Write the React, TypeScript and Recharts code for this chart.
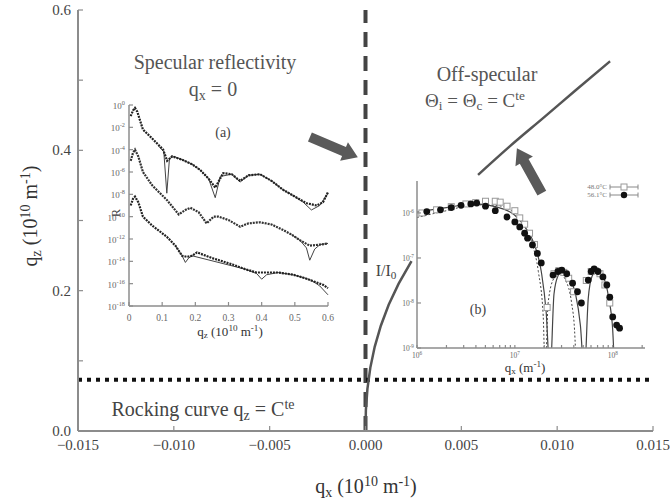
import { ComposedChart, Line, Scatter, XAxis, YAxis, ReferenceLine } from "recharts";

const SERIF = '"Liberation Serif", "Times New Roman", Tinos, Times, "DejaVu Serif", serif';
const AXIS = "#8c8c8c";

// main panel: (qx, qz) map
const qxTicks = [-0.015, -0.01, -0.005, 0, 0.005, 0.01, 0.015];
const qzTicks = [0, 0.1, 0.2, 0.3, 0.4, 0.5, 0.6];
const qzLabeled = [0, 0.2, 0.4, 0.6];
const rockingQz = 0.073;
const offSpecQx = [0.00587, 0.00754, 0.00931, 0.01098, 0.01276];
const offSpecQz = [0.365, 0.406, 0.447, 0.486, 0.527];
const intensityQx = [0, 0.00002, 0.0001, 0.00025, 0.00048, 0.0008, 0.00121, 0.00173, 0.0024];
const intensityQz = [0, 0.03, 0.06, 0.09, 0.12, 0.15, 0.18, 0.21, 0.242];
const arrowSpecular = [[-0.0029, 0.419], [-0.0004, 0.39]];
const arrowOffSpec = [[0.0092, 0.339], [0.0079, 0.403]];

// inset (a): specular reflectivity, log10(R) vs qz
const qzA1 = [0.005, 0.012, 0.018, 0.025, 0.042, 0.07, 0.103, 0.115, 0.13, 0.16, 0.19, 0.214, 0.24, 0.26, 0.284, 0.31, 0.335, 0.36, 0.395, 0.43, 0.465, 0.5, 0.536, 0.566, 0.585, 0.6];
const logRA1 = [-1.0, -0.5, -0.27, -0.6, -2.2, -3.0, -4.0, -5.0, -4.6, -4.9, -5.3, -5.8, -6.6, -7.4, -6.1, -6.2, -6.8, -6.3, -6.2, -6.8, -7.6, -8.2, -8.8, -9.0, -8.7, -7.8];
const qzFitA1 = [0.09, 0.105, 0.114, 0.122, 0.135, 0.16, 0.19, 0.214, 0.24, 0.26, 0.275, 0.31, 0.335, 0.36, 0.395, 0.43, 0.465, 0.5, 0.525, 0.55, 0.575, 0.6];
const logFitA1 = [-3.7, -4.2, -7.9, -4.8, -4.6, -4.9, -5.3, -5.8, -6.6, -8.3, -6.4, -6.2, -6.9, -6.3, -6.2, -6.8, -7.6, -8.2, -8.7, -9.4, -9.0, -7.9];
const qzA2 = [0.005, 0.012, 0.018, 0.028, 0.042, 0.07, 0.114, 0.15, 0.17, 0.185, 0.21, 0.234, 0.255, 0.27, 0.3, 0.335, 0.36, 0.395, 0.43, 0.465, 0.49, 0.515, 0.545, 0.576, 0.6];
const logRA2 = [-5.0, -4.3, -4.0, -4.6, -6.0, -7.2, -8.5, -9.8, -9.4, -9.2, -9.6, -10.6, -10.0, -10.0, -10.3, -10.9, -10.6, -10.5, -10.7, -11.2, -11.6, -12.1, -12.6, -12.5, -12.4];
const qzFitA2 = [0.49, 0.515, 0.535, 0.545, 0.56, 0.576, 0.6];
const logFitA2 = [-11.6, -12.1, -12.8, -13.9, -12.9, -12.5, -12.4];
const qzA3 = [0.005, 0.012, 0.018, 0.028, 0.042, 0.07, 0.114, 0.14, 0.16, 0.175, 0.19, 0.205, 0.25, 0.314, 0.35, 0.385, 0.415, 0.45, 0.495, 0.53, 0.566, 0.585, 0.6];
const logRA3 = [-9.0, -8.4, -8.2, -8.7, -10.0, -10.8, -11.8, -12.6, -13.5, -13.6, -13.5, -13.2, -13.7, -14.3, -14.7, -15.0, -15.0, -15.0, -15.2, -15.5, -15.9, -16.1, -16.4];
const qzFitA3 = [0.14, 0.16, 0.17, 0.18, 0.19, 0.35, 0.385, 0.4, 0.415, 0.45, 0.495, 0.53, 0.55, 0.575, 0.6];
const logFitA3 = [-12.6, -13.5, -14.1, -13.7, -13.5, -14.7, -15.1, -15.6, -15.2, -15.0, -15.2, -15.5, -15.7, -16.2, -17.0];
const logRTicks = [-18, -16, -14, -12, -10, -8, -6, -4, -2, 0];
const qzATicks = [0, 0.1, 0.2, 0.3, 0.4, 0.5, 0.6];

// inset (b): off-specular scan, log10(I/I0) vs log10(qx)
const logQx48 = [6.05, 6.2, 6.35, 6.5, 6.6, 6.7, 6.8, 6.85, 6.92, 7.0, 7.05, 7.1, 7.15, 7.2, 7.33, 7.4, 7.45, 7.5, 7.55, 7.6, 7.73, 7.78, 7.82, 7.87, 7.92, 7.97];
const logI48 = [-6.0, -5.93, -5.86, -5.8, -5.77, -5.74, -5.74, -5.76, -5.85, -5.95, -6.11, -6.25, -6.45, -6.7, -8.1, -7.35, -7.28, -7.32, -7.45, -7.75, -7.5, -7.3, -7.28, -7.35, -7.6, -8.0];
const logQx56 = [6.1, 6.24, 6.35, 6.45, 6.55, 6.61, 6.7, 6.8, 6.92, 7.0, 7.05, 7.1, 7.13, 7.18, 7.23, 7.27, 7.39, 7.44, 7.48, 7.53, 7.59, 7.64, 7.68, 7.75, 7.78, 7.81, 7.85, 7.9, 7.94, 7.97, 8.0, 8.04, 8.07];
const logI56 = [-5.97, -5.93, -5.88, -5.83, -5.8, -5.78, -5.85, -5.95, -6.09, -6.2, -6.31, -6.45, -6.56, -6.71, -6.9, -7.11, -7.38, -7.3, -7.27, -7.35, -7.56, -7.75, -8.0, -7.49, -7.3, -7.24, -7.3, -7.42, -7.6, -7.87, -8.31, -8.49, -8.56];
const logQxFitSolid = [6.0, 6.3, 6.6, 6.8, 7.0, 7.1, 7.2, 7.27, 7.32, 7.36, 7.4, 7.44, 7.48, 7.55, 7.62, 7.67, 7.71, 7.75, 7.79, 7.84, 7.9, 7.96, 8.0, 8.02];
const logIFitSolid = [-5.98, -5.88, -5.8, -5.86, -6.05, -6.3, -6.7, -7.3, -8.2, -9.6, -7.8, -7.4, -7.3, -7.45, -7.8, -8.5, -9.6, -7.9, -7.4, -7.28, -7.4, -7.9, -8.6, -9.6];
const logQxFitDash = [6.0, 6.3, 6.6, 6.8, 7.0, 7.1, 7.18, 7.24, 7.29, 7.31, 7.34, 7.4, 7.46, 7.52, 7.58, 7.61, 7.63];
const logIFitDash = [-6.1, -5.95, -5.82, -5.83, -6.0, -6.3, -6.7, -7.3, -8.3, -9.6, -8.0, -7.45, -7.35, -7.5, -8.0, -8.6, -9.6];
const logQxTicks = [6, 7, 8];
const logQxMinor = [2, 3, 4, 5, 6, 7, 8, 9].flatMap((m) => [6 + Math.log10(m), 7 + Math.log10(m)]).concat([8 + Math.log10(2)]);
const logITicks = [-9, -8, -7, -6];

const pts = (xs: number[], ys: number[], kx: string, ky: string) =>
  xs.map((v, i) => ({ [kx]: v, [ky]: ys[i] }));

function Arrow(props: any) {
  const { x1, y1, x2, y2 } = props;
  const dx = x2 - x1;
  const dy = y2 - y1;
  const len = Math.hypot(dx, dy) || 1;
  const ux = dx / len;
  const uy = dy / len;
  const nx = -uy;
  const ny = ux;
  const head = 15;
  const sw = 5;
  const hw = 10;
  const bx = x2 - ux * head;
  const by = y2 - uy * head;
  const p = [
    [x1 + nx * sw, y1 + ny * sw],
    [bx + nx * sw, by + ny * sw],
    [bx + nx * hw, by + ny * hw],
    [x2, y2],
    [bx - nx * hw, by - ny * hw],
    [bx - nx * sw, by - ny * sw],
    [x1 - nx * sw, y1 - ny * sw],
  ];
  return <polygon points={p.map((q) => q.join(",")).join(" ")} fill="#5a5a5a" />;
}

// tick with inward mark; side tells where the axis is
function makeTick(side: string, len: number, labelFn?: (v: number, x: number, y: number) => any) {
  return (props: any) => {
    const { x, y, payload } = props;
    const v = payload.value;
    let line;
    if (side === "bottom") line = <line x1={x} y1={y} x2={x} y2={y - len} stroke={AXIS} strokeWidth={1.2} />;
    else if (side === "top") line = <line x1={x} y1={y} x2={x} y2={y + len} stroke={AXIS} strokeWidth={1.2} />;
    else if (side === "left") line = <line x1={x} y1={y} x2={x + len} y2={y} stroke={AXIS} strokeWidth={1.2} />;
    else line = <line x1={x} y1={y} x2={x - len} y2={y} stroke={AXIS} strokeWidth={1.2} />;
    return (
      <g>
        {line}
        {labelFn ? labelFn(v, x, y) : null}
      </g>
    );
  };
}

function Txt({ x, y, size, color, rotate, children }: any) {
  return (
    <div
      style={{
        position: "absolute",
        left: x,
        top: y,
        transform: `translate(-50%, -50%)${rotate ? ` rotate(${rotate}deg)` : ""}`,
        fontFamily: SERIF,
        fontSize: size,
        color: color || "#555",
        whiteSpace: "nowrap",
        lineHeight: 1,
      }}
    >
      {children}
    </div>
  );
}

const sub = (t: string) => <span style={{ fontSize: "0.7em", verticalAlign: "-0.3em", lineHeight: 0 }}>{t}</span>;
const sup = (t: string) => <span style={{ fontSize: "0.7em", verticalAlign: "0.5em", lineHeight: 0 }}>{t}</span>;

const mainXLabel = (v: number, x: number, y: number) => (
  <text x={x} y={y + 19} textAnchor="middle" fontSize={15} fill="#444" fontFamily={SERIF}>
    {(v < 0 ? "\u2212" : "") + Math.abs(v).toFixed(3)}
  </text>
);
const mainYLabel = (v: number, x: number, y: number) =>
  qzLabeled.includes(v) ? (
    <text x={x - 7} y={y + 5} textAnchor="end" fontSize={15} fill="#444" fontFamily={SERIF}>
      {v.toFixed(1)}
    </text>
  ) : null;

const powLabel = (size: number, anchor: string, dx: number, dy: number) => (v: number, x: number, y: number) => (
  <text x={x + dx} y={y + dy} textAnchor={anchor} fontSize={size} fill="#666" fontFamily={SERIF}>
    10<tspan dy={-size * 0.45} fontSize={size * 0.7}>{String(Math.round(v))}</tspan>
  </text>
);
const insetAXLabel = (v: number, x: number, y: number) => (
  <text x={x} y={y + 15} textAnchor="middle" fontSize={9.5} fill="#666" fontFamily={SERIF}>
    {String(v)}
  </text>
);
const bXLabel = (v: number, x: number, y: number) =>
  logQxTicks.includes(v) ? powLabel(7.5, "middle", 0, 10)(v, x, y) : null;

export default function App() {
  const offSpec = pts(offSpecQx, offSpecQz, "qx", "qz");
  const intensity = pts(intensityQx, intensityQz, "qx", "qz");

  return (
    <div style={{ position: "absolute", left: 0, top: 0, width: 670, height: 502, background: "#fff" }}>
      <ComposedChart width={670} height={502} margin={{ top: 10, right: 17, left: 0, bottom: 0 }}>
        <XAxis
          xAxisId={0}
          type="number"
          dataKey="qx"
          domain={[-0.015, 0.015]}
          ticks={qxTicks}
          height={71}
          tickSize={0}
          tickMargin={0}
          tickLine={false}
          axisLine={{ stroke: AXIS, strokeWidth: 2 }}
          tick={makeTick("bottom", 5, mainXLabel)}
          interval={0}
          allowDataOverflow
        />
        <XAxis
          xAxisId="top"
          orientation="top"
          type="number"
          domain={[-0.015, 0.015]}
          ticks={qxTicks}
          height={0}
          tickSize={0}
          tickLine={false}
          axisLine={{ stroke: AXIS, strokeWidth: 2 }}
          tick={makeTick("top", 5)}
          interval={0}
        />
        <YAxis
          yAxisId={0}
          type="number"
          domain={[0, 0.6]}
          ticks={qzTicks}
          width={78}
          tickSize={0}
          tickMargin={0}
          tickLine={false}
          axisLine={{ stroke: AXIS, strokeWidth: 2 }}
          tick={makeTick("left", 5, mainYLabel)}
          interval={0}
        />
        <YAxis
          yAxisId="right"
          orientation="right"
          type="number"
          domain={[0, 0.6]}
          ticks={qzTicks}
          width={0}
          tickSize={0}
          tickLine={false}
          axisLine={{ stroke: AXIS, strokeWidth: 2 }}
          tick={makeTick("right", 5)}
          interval={0}
        />
        <ReferenceLine x={0} stroke="#444" strokeWidth={4} strokeDasharray="15 9" />
        <ReferenceLine y={rockingQz} stroke="#111" strokeWidth={4} strokeDasharray="4 5" />
        <Line data={offSpec} dataKey="qz" type="monotone" stroke="#555" strokeWidth={2.5} dot={false} isAnimationActive={false} />
        <Line data={intensity} dataKey="qz" type="linear" stroke="#555" strokeWidth={2.5} dot={false} isAnimationActive={false} />
        <ReferenceLine
          segment={[{ x: arrowSpecular[0][0], y: arrowSpecular[0][1] }, { x: arrowSpecular[1][0], y: arrowSpecular[1][1] }]}
          shape={Arrow}
        />
        <ReferenceLine
          segment={[{ x: arrowOffSpec[0][0], y: arrowOffSpec[0][1] }, { x: arrowOffSpec[1][0], y: arrowOffSpec[1][1] }]}
          shape={Arrow}
        />
      </ComposedChart>

      {/* inset (a) */}
      <div style={{ position: "absolute", left: 85, top: 95 }}>
        <ComposedChart width={255} height={250} margin={{ top: 10, right: 12, left: 0, bottom: 0 }}>
          <XAxis
            xAxisId={0}
            type="number"
            dataKey="q"
            domain={[0, 0.6]}
            ticks={qzATicks}
            height={39}
            tickSize={0}
            tickMargin={0}
            tickLine={false}
            axisLine={{ stroke: AXIS, strokeWidth: 1.5 }}
            tick={makeTick("bottom", 4, insetAXLabel)}
            interval={0}
          />
          <XAxis
            xAxisId="top"
            orientation="top"
            type="number"
            domain={[0, 0.6]}
            ticks={[0.05, 0.1, 0.15, 0.2, 0.25, 0.3, 0.35, 0.4, 0.45, 0.5, 0.55]}
            height={0}
            tickSize={0}
            tickLine={false}
            axisLine={{ stroke: AXIS, strokeWidth: 1.5 }}
            tick={makeTick("top", 4)}
            interval={0}
          />
          <YAxis
            yAxisId={0}
            type="number"
            domain={[-18, 0]}
            ticks={logRTicks}
            width={44}
            tickSize={0}
            tickMargin={0}
            tickLine={false}
            axisLine={{ stroke: AXIS, strokeWidth: 1.5 }}
            tick={makeTick("left", 4, powLabel(9, "end", -4, 4))}
            interval={0}
            allowDataOverflow
          />
          <YAxis
            yAxisId="right"
            orientation="right"
            type="number"
            domain={[-18, 0]}
            ticks={logRTicks}
            width={0}
            tickSize={0}
            tickLine={false}
            axisLine={{ stroke: AXIS, strokeWidth: 1.5 }}
            tick={makeTick("right", 4)}
            interval={0}
          />
          <Line data={pts(qzFitA1, logFitA1, "q", "r")} dataKey="r" stroke="#444" strokeWidth={1} dot={false} isAnimationActive={false} />
          <Line data={pts(qzFitA2, logFitA2, "q", "r")} dataKey="r" stroke="#444" strokeWidth={1} dot={false} isAnimationActive={false} />
          <Line data={pts(qzFitA3, logFitA3, "q", "r")} dataKey="r" stroke="#444" strokeWidth={1} dot={false} isAnimationActive={false} />
          <Line data={pts(qzA1, logRA1, "q", "r")} dataKey="r" stroke="#222" strokeWidth={2.2} strokeDasharray="2 1" dot={false} isAnimationActive={false} />
          <Line data={pts(qzA2, logRA2, "q", "r")} dataKey="r" stroke="#333" strokeWidth={2.2} strokeDasharray="2 1" dot={false} isAnimationActive={false} />
          <Line data={pts(qzA3, logRA3, "q", "r")} dataKey="r" stroke="#222" strokeWidth={2.2} strokeDasharray="2 1" dot={false} isAnimationActive={false} />
        </ComposedChart>
      </div>

      {/* inset (b) */}
      <div style={{ position: "absolute", left: 370, top: 170 }}>
        <ComposedChart width={290} height={210} margin={{ top: 11, right: 15, left: 0, bottom: 0 }}>
          <XAxis
            xAxisId={0}
            type="number"
            dataKey="lq"
            domain={[6, 8.33]}
            ticks={logQxMinor.concat(logQxTicks)}
            height={32}
            tickSize={0}
            tickMargin={0}
            tickLine={false}
            axisLine={{ stroke: AXIS, strokeWidth: 1.5 }}
            tick={makeTick("bottom", 3, bXLabel)}
            interval={0}
            allowDataOverflow
          />
          <XAxis
            xAxisId="top"
            orientation="top"
            type="number"
            domain={[6, 8.33]}
            ticks={logQxMinor.concat(logQxTicks)}
            height={0}
            tickSize={0}
            tickLine={false}
            axisLine={{ stroke: AXIS, strokeWidth: 1.5 }}
            tick={makeTick("top", 3)}
            interval={0}
          />
          <YAxis
            yAxisId={0}
            type="number"
            domain={[-9, -5.29]}
            ticks={logITicks}
            width={47}
            tickSize={0}
            tickMargin={0}
            tickLine={false}
            axisLine={{ stroke: AXIS, strokeWidth: 1.5 }}
            tick={makeTick("left", 4, powLabel(7.5, "end", -3, 3))}
            interval={0}
            allowDataOverflow
          />
          <YAxis
            yAxisId="right"
            orientation="right"
            type="number"
            domain={[-9, -5.29]}
            ticks={logITicks}
            width={0}
            tickSize={0}
            tickLine={false}
            axisLine={{ stroke: AXIS, strokeWidth: 1.5 }}
            tick={makeTick("right", 4)}
            interval={0}
          />
          <Line data={pts(logQxFitDash, logIFitDash, "lq", "li")} dataKey="li" type="monotone" stroke="#444" strokeWidth={1} strokeDasharray="2 2" dot={false} isAnimationActive={false} />
          <Line data={pts(logQxFitSolid, logIFitSolid, "lq", "li")} dataKey="li" type="monotone" stroke="#444" strokeWidth={1.2} dot={false} isAnimationActive={false} />
          <Scatter
            data={pts(logQx48, logI48, "lq", "li")}
            dataKey="li"
            shape={(p: any) => <rect x={p.cx - 3} y={p.cy - 3} width={6} height={6} fill="#fff" stroke="#999" strokeWidth={1} />}
            isAnimationActive={false}
          />
          <Scatter
            data={pts(logQx56, logI56, "lq", "li")}
            dataKey="li"
            shape={(p: any) => <circle cx={p.cx} cy={p.cy} r={3.4} fill="#111" />}
            isAnimationActive={false}
          />
        </ComposedChart>
      </div>

      {/* annotations */}
      <Txt x={215} y={62} size={20}>Specular reflectivity</Txt>
      <Txt x={213} y={89} size={20}>q{sub("x")} = 0</Txt>
      <Txt x={487} y={74} size={20}>Off-specular</Txt>
      <Txt x={475} y={100} size={19}>Θ{sub("i")} = Θ{sub("c")} = C{sup("te")}</Txt>
      <Txt x={203} y={409} size={20} color="#444">Rocking curve q{sub("z")} = C{sup("te")}</Txt>
      <Txt x={223} y={133} size={14} color="#444">(a)</Txt>
      <Txt x={478} y={310} size={14} color="#444">(b)</Txt>
      <Txt x={386} y={271} size={16} color="#444">I/I{sub("0")}</Txt>
      <Txt x={116} y={213} size={12} color="#444" rotate={-90}>R</Txt>
      <Txt x={230} y={331} size={13} color="#333">q{sub("z")} (10{sup("10")} m{sup("-1")})</Txt>
      <Txt x={525} y={367} size={13} color="#333">q{sub("x")} (m{sup("-1")})</Txt>
      <Txt x={597} y={187} size={7} color="#777">48.0°C</Txt>
      <Txt x={597} y={195} size={7} color="#777">56.1°C</Txt>
      <Txt x={366} y={486} size={20} color="#333">q{sub("x")} (10{sup("10")} m{sup("-1")})</Txt>
      <Txt x={30} y={216} size={20} color="#333" rotate={-90}>q{sub("z")} (10{sup("10")} m{sup("-1")})</Txt>
      {/* legend symbols */}
      <svg style={{ position: "absolute", left: 608, top: 182 }} width={34} height={18}>
        <line x1={2} y1={5} x2={30} y2={5} stroke="#888" strokeWidth={1} />
        <line x1={2} y1={2.5} x2={2} y2={7.5} stroke="#888" />
        <line x1={30} y1={2.5} x2={30} y2={7.5} stroke="#888" />
        <rect x={13} y={2} width={6} height={6} fill="#fff" stroke="#999" />
        <line x1={2} y1={13} x2={30} y2={13} stroke="#888" strokeWidth={1} />
        <line x1={2} y1={10.5} x2={2} y2={15.5} stroke="#888" />
        <line x1={30} y1={10.5} x2={30} y2={15.5} stroke="#888" />
        <circle cx={16} cy={13} r={3.2} fill="#111" />
      </svg>
    </div>
  );
}
